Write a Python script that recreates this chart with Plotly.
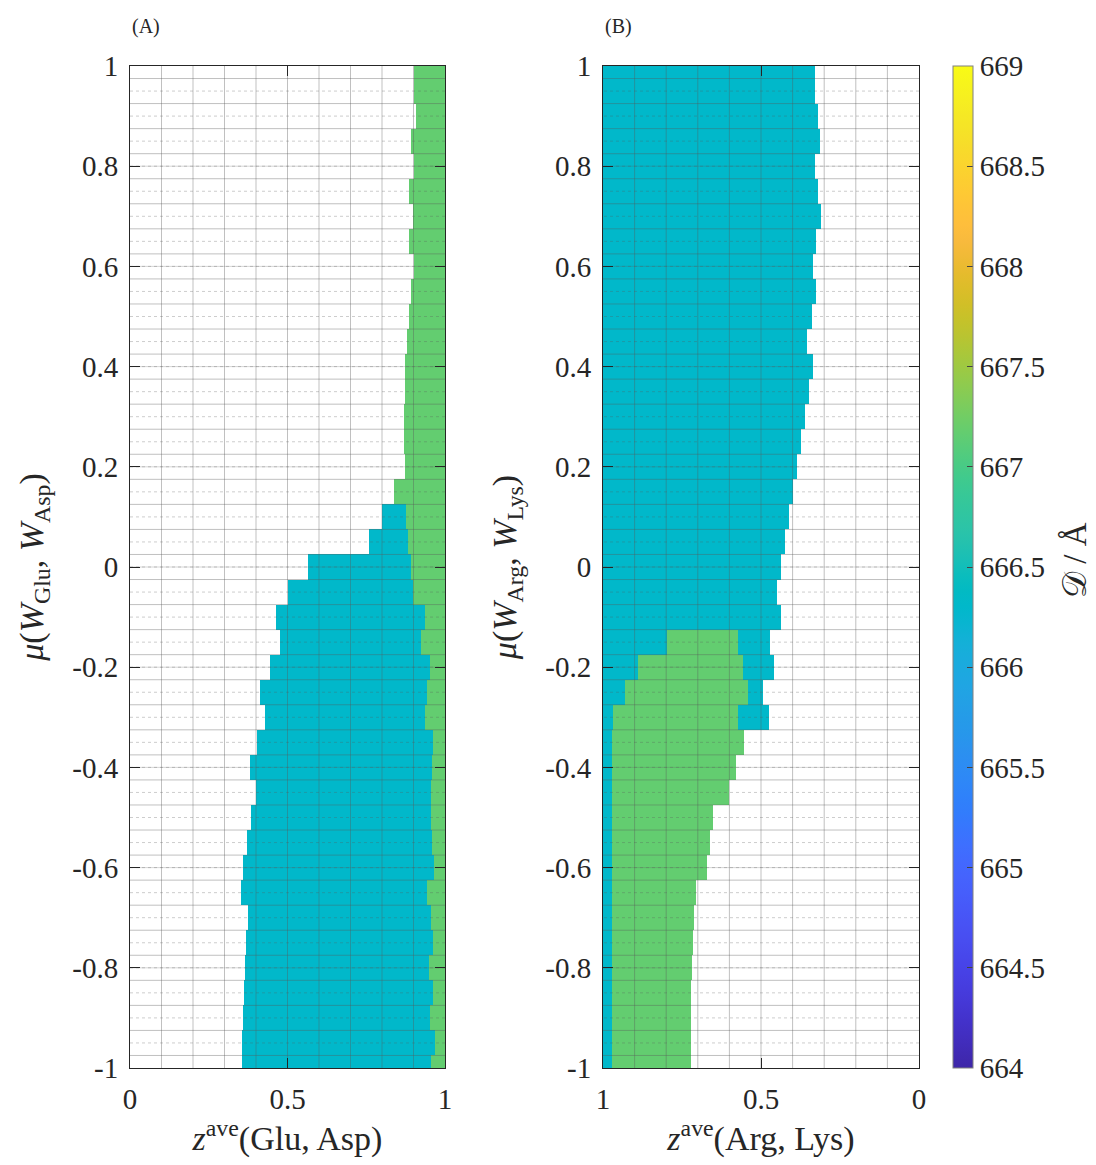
import numpy as np
import plotly.graph_objects as go

# ---------------- data ----------------
mu = [1.0, 0.95, 0.9, 0.85, 0.8, 0.75, 0.7, 0.65, 0.6, 0.55, 0.5, 0.45, 0.4, 0.35,
      0.3, 0.25, 0.2, 0.15, 0.1, 0.05, 0.0, -0.05, -0.1, -0.15, -0.2, -0.25, -0.3,
      -0.35, -0.4, -0.45, -0.5, -0.55, -0.6, -0.65, -0.7, -0.75, -0.8, -0.85, -0.9,
      -0.95, -1.0]

# Panel A: z_ave(Glu, Asp) -- cyan region starts at glu_cyan_start, green starts at glu_green_start, both run to 1
glu_cyan_start = [None, None, None, None, None, None, None, None, None, None, None,
                  None, None, None, None, None, None, None,
                  0.801, 0.758, 0.564, 0.500, 0.464, 0.477, 0.444, 0.412, 0.428,
                  0.403, 0.381, 0.400, 0.384, 0.370, 0.359, 0.351, 0.374, 0.369,
                  0.364, 0.361, 0.358, 0.356, 0.354]
glu_green_start = [0.900, 0.900, 0.907, 0.893, 0.902, 0.886, 0.897, 0.886, 0.902,
                   0.893, 0.886, 0.880, 0.874, 0.872, 0.870, 0.870, 0.872, 0.838,
                   0.877, 0.884, 0.891, 0.899, 0.936, 0.924, 0.951, 0.942, 0.937,
                   0.961, 0.958, 0.957, 0.957, 0.959, 0.964, 0.943, 0.954, 0.963,
                   0.948, 0.962, 0.953, 0.968, 0.957]

# Panel B: z_ave(Arg, Lys) -- coloured region spans [arg_outer, 1]; green spans [arg_green_lo, arg_green_hi]
arg_outer = [0.328, 0.328, 0.321, 0.312, 0.328, 0.321, 0.311, 0.325, 0.337, 0.327,
             0.340, 0.354, 0.335, 0.348, 0.361, 0.374, 0.387, 0.400, 0.412, 0.425,
             0.438, 0.449, 0.438, 0.472, 0.460, 0.494, 0.476, 0.555, 0.580, 0.600,
             0.652, 0.662, 0.672, 0.707, 0.711, 0.714, 0.718, 0.720, 0.720, 0.722,
             0.723]
arg_green_hi = [None] * 23 + [0.796, 0.888, 0.931, 0.968, 0.971, 0.971, 0.971, 0.971,
                              0.971, 0.971, 0.971, 0.971, 0.971, 0.971, 0.971, 0.971,
                              0.971, 0.971]
arg_green_lo = [None] * 23 + [0.572, 0.558, 0.542, 0.572, 0.555, 0.580, 0.600, 0.652,
                              0.662, 0.672, 0.707, 0.711, 0.714, 0.718, 0.720, 0.720,
                              0.722, 0.723]

# D / Angstrom values of the two regions
D_CYAN = 666.30
D_GREEN = 667.17

y_ticks = [-1, -0.8, -0.6, -0.4, -0.2, 0, 0.2, 0.4, 0.6, 0.8, 1]
y_ticktext = ["-1", "-0.8", "-0.6", "-0.4", "-0.2", "0", "0.2", "0.4", "0.6", "0.8", "1"]
x_ticks = [0, 0.5, 1]
x_ticktext = ["0", "0.5", "1"]
cb_ticks = [664, 664.5, 665, 665.5, 666, 666.5, 667, 667.5, 668, 668.5, 669]

# ---------------- styling ----------------
PARULA = [
    [0.2422, 0.1504, 0.6603], [0.2504, 0.1650, 0.7076], [0.2578, 0.1818, 0.7511], [0.2647, 0.1978, 0.7952],
    [0.2706, 0.2147, 0.8364], [0.2751, 0.2342, 0.8710], [0.2783, 0.2559, 0.8991], [0.2803, 0.2782, 0.9221],
    [0.2813, 0.3006, 0.9414], [0.2810, 0.3228, 0.9579], [0.2795, 0.3447, 0.9717], [0.2760, 0.3667, 0.9829],
    [0.2699, 0.3892, 0.9906], [0.2602, 0.4123, 0.9952], [0.2440, 0.4358, 0.9988], [0.2206, 0.4603, 0.9973],
    [0.1963, 0.4847, 0.9892], [0.1834, 0.5074, 0.9798], [0.1786, 0.5289, 0.9682], [0.1764, 0.5499, 0.9520],
    [0.1687, 0.5703, 0.9359], [0.1540, 0.5902, 0.9218], [0.1460, 0.6091, 0.9079], [0.1380, 0.6276, 0.8973],
    [0.1248, 0.6459, 0.8883], [0.1113, 0.6635, 0.8763], [0.0952, 0.6798, 0.8598], [0.0689, 0.6948, 0.8394],
    [0.0297, 0.7082, 0.8163], [0.0036, 0.7203, 0.7917], [0.0067, 0.7312, 0.7660], [0.0433, 0.7411, 0.7394],
    [0.0964, 0.7500, 0.7120], [0.1408, 0.7584, 0.6842], [0.1717, 0.7670, 0.6554], [0.1938, 0.7758, 0.6251],
    [0.2161, 0.7843, 0.5923], [0.2470, 0.7918, 0.5567], [0.2906, 0.7973, 0.5188], [0.3406, 0.8008, 0.4789],
    [0.3909, 0.8029, 0.4354], [0.4456, 0.8024, 0.3909], [0.5044, 0.7993, 0.3480], [0.5616, 0.7942, 0.3045],
    [0.6174, 0.7876, 0.2612], [0.6720, 0.7793, 0.2227], [0.7242, 0.7698, 0.1910], [0.7738, 0.7598, 0.1646],
    [0.8203, 0.7498, 0.1535], [0.8634, 0.7406, 0.1596], [0.9035, 0.7330, 0.1774], [0.9393, 0.7288, 0.2100],
    [0.9728, 0.7298, 0.2394], [0.9956, 0.7434, 0.2371], [0.9970, 0.7659, 0.2199], [0.9952, 0.7893, 0.2028],
    [0.9892, 0.8136, 0.1885], [0.9786, 0.8386, 0.1766], [0.9676, 0.8639, 0.1643], [0.9610, 0.8890, 0.1537],
    [0.9597, 0.9135, 0.1423], [0.9628, 0.9373, 0.1265], [0.9691, 0.9606, 0.1064], [0.9769, 0.9839, 0.0805]]
n = len(PARULA)
colorscale = [[i / (n - 1), "rgb(%d,%d,%d)" % tuple(int(round(255 * c)) for c in rgb)]
              for i, rgb in enumerate(PARULA)]

FONT = "Liberation Serif, Times New Roman, serif"
TICK_SIZE = 29
TITLE_SIZE = 34
AXC = "#262626"
CMIN, CMAX = 664, 669
ROW_H = 0.05

# page body has an 8 px margin: the figure is made 8 px smaller and shifted accordingly
FIG_W, FIG_H = 1088, 1157
M_L, M_R, M_T, M_B = 122, 177, 58, 97
PW = FIG_W - M_L - M_R   # 789 px plot width
PH = FIG_H - M_T - M_B   # 1002 px plot height

fig = go.Figure()


def add_bars(starts, ends, value, xa, ya, showscale=False):
    ys, bases, lens = [], [], []
    for m, s, e in zip(mu, starts, ends):
        if s is None or e is None:
            continue
        ys.append(m)
        bases.append(min(s, e))
        lens.append(abs(e - s))
    marker = dict(color=[value] * len(ys), colorscale=colorscale, cmin=CMIN, cmax=CMAX,
                  line=dict(width=0))
    if showscale:
        marker.update(showscale=True, colorbar=dict(
            x=(953 - 130) / PW, xanchor="left", xpad=0, ypad=0,
            y=0.5, yanchor="middle", len=1, lenmode="fraction",
            thickness=20, thicknessmode="pixels",
            outlinewidth=1, outlinecolor="#808080",
            tickvals=cb_ticks, ticks="inside", ticklen=6, tickcolor="#444",
            tickfont=dict(family=FONT, size=TICK_SIZE, color=AXC)))
    fig.add_trace(go.Bar(y=ys, x=lens, base=bases, orientation="h", width=ROW_H,
                         marker=marker, xaxis=xa, yaxis=ya, hoverinfo="skip",
                         showlegend=False))


# Panel A
add_bars(glu_cyan_start, [1.0] * len(mu), D_CYAN, "x", "y", showscale=True)
add_bars(glu_green_start, [1.0] * len(mu), D_GREEN, "x", "y")
# Panel B
add_bars(arg_outer, [1.0] * len(mu), D_CYAN, "x2", "y2")
add_bars(arg_green_lo, arg_green_hi, D_GREEN, "x2", "y2")


# grid drawn on top of the cells (MATLAB "Layer top" look)
def grid_lines(xa, ya, xs, ys, color, dash, width=1):
    gx, gy = [], []
    for v in xs:
        gx += [v, v, None]
        gy += [-1, 1, None]
    for v in ys:
        gx += [0, 1, None]
        gy += [v, v, None]
    fig.add_trace(go.Scatter(x=gx, y=gy, mode="lines", xaxis=xa, yaxis=ya,
                             line=dict(color=color, width=width, dash=dash),
                             hoverinfo="skip", showlegend=False))


minor_x = [i / 10 for i in range(1, 10)]
row_edges = [round(0.975 - 0.05 * i, 3) for i in range(40)]
minor_y = [round(-0.95 + 0.05 * i, 2) for i in range(39)]
for xa, ya in (("x", "y"), ("x2", "y2")):
    grid_lines(xa, ya, [], minor_y, "rgba(90,90,90,0.30)", "dot")
    grid_lines(xa, ya, minor_x, row_edges, "rgba(90,90,90,0.38)", "solid")
    grid_lines(xa, ya, [], y_ticks[1:-1], "rgba(90,90,90,0.25)", "solid")

axis_common = dict(showgrid=False, zeroline=False, showline=True, linecolor=AXC,
                   linewidth=1, mirror="ticks", ticks="inside", ticklen=10,
                   tickcolor=AXC, tickwidth=1,
                   tickfont=dict(family=FONT, size=TICK_SIZE, color=AXC))

fig.update_layout(
    width=FIG_W, height=FIG_H, autosize=False,
    margin=dict(l=M_L, r=M_R, t=M_T, b=M_B, pad=0),
    paper_bgcolor="white", plot_bgcolor="white",
    barmode="overlay", bargap=0, showlegend=False,
    xaxis=dict(domain=[0, 315 / PW], range=[0, 1], tickvals=x_ticks, ticktext=x_ticktext,
               ticklabelstandoff=5,
               title=dict(text="<i>z</i><sup>ave</sup>(Glu, Asp)", standoff=2,
                          font=dict(family=FONT, size=TITLE_SIZE, color=AXC)),
               anchor="y", **axis_common),
    yaxis=dict(domain=[0, 1], range=[-1, 1], tickvals=y_ticks, ticktext=y_ticktext,
               ticklabelstandoff=5,
               title=dict(text="<i>μ</i>(<i>W</i><sub>Glu</sub>, <i>W</i><sub>Asp</sub>)",
                          standoff=18, font=dict(family=FONT, size=TITLE_SIZE, color=AXC)),
               anchor="x", **axis_common),
    xaxis2=dict(domain=[473 / PW, 1], range=[1, 0], tickvals=x_ticks, ticktext=x_ticktext,
                ticklabelstandoff=5,
                title=dict(text="<i>z</i><sup>ave</sup>(Arg, Lys)", standoff=2,
                           font=dict(family=FONT, size=TITLE_SIZE, color=AXC)),
                anchor="y2", **axis_common),
    yaxis2=dict(domain=[0, 1], range=[-1, 1], tickvals=y_ticks, ticktext=y_ticktext,
                ticklabelstandoff=5,
                title=dict(text="<i>μ</i>(<i>W</i><sub>Arg</sub>, <i>W</i><sub>Lys</sub>)",
                           standoff=18, font=dict(family=FONT, size=TITLE_SIZE, color=AXC)),
                anchor="x2", **axis_common),
    annotations=[
        dict(text="(A)", x=0, y=1 + (66 - 27) / PH, xref="paper", yref="paper",
             xanchor="left", yanchor="middle", showarrow=False,
             font=dict(family=FONT, size=20, color=AXC)),
        dict(text="(B)", x=473 / PW, y=1 + (66 - 27) / PH, xref="paper", yref="paper",
             xanchor="left", yanchor="middle", showarrow=False,
             font=dict(family=FONT, size=20, color=AXC)),
        dict(text="𝒟 / Å", x=(1075 - 130) / PW, y=(1068 - 560) / PH,
             xref="paper", yref="paper", xanchor="center", yanchor="middle",
             textangle=-90, showarrow=False,
             font=dict(family=FONT + ", DejaVu Serif, DejaVu Sans", size=33, color=AXC)),
    ],
)

fig.write_html("out.html")
